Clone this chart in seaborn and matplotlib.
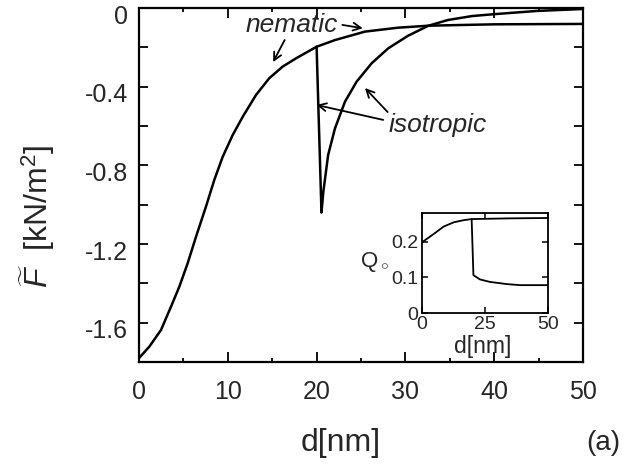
import numpy as np
import pandas as pd
import matplotlib
matplotlib.use("Agg")
import matplotlib.pyplot as plt
import seaborn as sns
from matplotlib.ticker import MultipleLocator, FixedLocator
from matplotlib.transforms import ScaledTranslation

# ---- data ----
nematic_d = [0, 1.16, 2.48, 3.60, 4.54, 5.48, 6.42, 7.54, 8.48, 9.43, 10.55, 11.68,
             13.18, 14.67, 16.18, 17.68, 20.0, 22.07, 25.45, 29.2, 32.6, 36.7,
             40.1, 45.0, 50.0]
nematic_F = [-1.78, -1.722, -1.637, -1.519, -1.417, -1.298, -1.163, -1.010, -0.874,
             -0.756, -0.646, -0.553, -0.442, -0.357, -0.298, -0.256, -0.197, -0.163,
             -0.120, -0.100, -0.090, -0.086, -0.083, -0.082, -0.081]

isotropic_d = [20.0, 20.55, 20.76, 21.3, 22.07, 23.2, 24.5, 26.2, 28.07, 30.3, 32.6,
               34.8, 37.5, 40.1, 44.8, 50.0]
isotropic_F = [-0.197, -1.04, -0.934, -0.747, -0.612, -0.476, -0.375, -0.281, -0.205,
               -0.141, -0.090, -0.061, -0.041, -0.031, -0.015, -0.005]

q_nematic_d = [0, 4.6, 8.6, 12.6, 16.6, 19.7, 35.0, 50.0]
q_nematic_Q = [0.198, 0.221, 0.242, 0.254, 0.260, 0.263, 0.265, 0.266]
q_isotropic_d = [19.7, 20.4, 23.0, 27.0, 33.6, 38.9, 50.0]
q_isotropic_Q = [0.263, 0.106, 0.094, 0.087, 0.081, 0.078, 0.078]

main_xticks = [0, 10, 20, 30, 40, 50]
main_yticks = [0, -0.4, -0.8, -1.2, -1.6]
main_ytick_labels = ["0", "-0.4", "-0.8", "-1.2", "-1.6"]
inset_xticks = [0, 25, 50]
inset_yticks = [0, 0.1, 0.2]
inset_ytick_labels = ["0", "0.1", "0.2"]

# ---- style ----
sns.set_theme(style="ticks")
plt.rcParams['font.family'] = ['Liberation Sans', 'DejaVu Sans']
plt.rcParams['mathtext.fontset'] = 'custom'
plt.rcParams['mathtext.rm'] = 'Liberation Sans'
plt.rcParams['mathtext.it'] = 'Liberation Sans:italic'
plt.rcParams['mathtext.bf'] = 'Liberation Sans:bold'
plt.rcParams['axes.unicode_minus'] = False

W, H = 628, 475
fig = plt.figure(figsize=(W / 100, H / 100), dpi=100)
fig.patch.set_facecolor('white')

# main axes (pixel box: x 139..583, y 8..362)
ax = fig.add_axes([139 / W, 1 - 362 / H, 444 / W, 354 / H])
ax.set_facecolor('white')

df_n = pd.DataFrame({"d": nematic_d, "F": nematic_F})
df_i = pd.DataFrame({"d": isotropic_d, "F": isotropic_F})
line_kw = dict(color='black', sort=False, estimator=None,
               solid_joinstyle='round', solid_capstyle='round')
sns.lineplot(data=df_n, x="d", y="F", ax=ax, lw=1.8, **line_kw)
sns.lineplot(data=df_i, x="d", y="F", ax=ax, lw=1.8, **line_kw)

ax.set_xlim(0, 50)
ax.set_ylim(-1.8, 0)
ax.xaxis.set_major_locator(FixedLocator(main_xticks))
ax.xaxis.set_minor_locator(MultipleLocator(5))
ax.set_yticks(main_yticks)
ax.set_yticklabels(main_ytick_labels)
ax.yaxis.set_minor_locator(MultipleLocator(0.2))
ax.tick_params(axis='both', which='both', direction='in', top=True, right=True,
               color='black', width=1.3)
ax.tick_params(axis='x', which='major', length=7, labelsize=18, pad=13)
ax.tick_params(axis='x', which='minor', length=3)
ax.tick_params(axis='y', which='major', length=6.5, labelsize=18, pad=8)
ax.tick_params(axis='y', which='minor', length=6.5)
for sp in ax.spines.values():
    sp.set_linewidth(1.6)
    sp.set_color('black')
# y tick labels sit slightly below their ticks in the reference
for lab in ax.get_yticklabels():
    lab.set_transform(lab.get_transform() + ScaledTranslation(0, -0.06, fig.dpi_scale_trans))

ax.set_xlabel("d[nm]", fontsize=23)
ax.xaxis.set_label_coords((341 - 139) / 444, (362 - 443) / 354)
ax.xaxis.label.set_va('center')
ax.set_ylabel(r"$\widetilde{F}$  [kN/m$^2$]", fontsize=23)
ax.yaxis.set_label_coords((37 - 139) / 444, (362 - 216) / 354)
ax.yaxis.label.set_va('center')
ax.yaxis.label.set_ha('center')

fig.text(603 / W, 1 - 443 / H, "(a)", fontsize=20, ha='center', va='center')

# annotations
ax.text(17.2, -0.086, "nematic", fontsize=19, style='italic', ha='center', va='center')
ax.text(33.6, -0.595, "isotropic", fontsize=19, style='italic', ha='center', va='center')
arrow_kw = dict(arrowstyle='->', lw=1.3, color='black', shrinkA=0, shrinkB=0,
                mutation_scale=14)
ax.annotate("", xy=(25.2, -0.103), xytext=(22.9, -0.086), arrowprops=arrow_kw)
ax.annotate("", xy=(15.1, -0.275), xytext=(16.4, -0.163), arrowprops=arrow_kw)
ax.annotate("", xy=(20.0, -0.493), xytext=(27.5, -0.569), arrowprops=arrow_kw)
ax.annotate("", xy=(25.45, -0.407), xytext=(28.0, -0.529), arrowprops=arrow_kw)

# inset axes (pixel box: x 422..548, y 213..313)
axi = fig.add_axes([422 / W, 1 - 313 / H, 126 / W, 100 / H])
axi.set_facecolor('white')
df_qn = pd.DataFrame({"d": q_nematic_d, "Q": q_nematic_Q})
df_qi = pd.DataFrame({"d": q_isotropic_d, "Q": q_isotropic_Q})
sns.lineplot(data=df_qn, x="d", y="Q", ax=axi, lw=1.3, **line_kw)
sns.lineplot(data=df_qi, x="d", y="Q", ax=axi, lw=1.3, **line_kw)
axi.set_xlim(0, 50)
axi.set_ylim(0, 0.28)
axi.set_xticks(inset_xticks)
axi.set_yticks(inset_yticks)
axi.set_yticklabels(inset_ytick_labels)
axi.tick_params(axis='both', which='major', direction='in', top=True, right=True,
                length=4, width=1.1, color='black', labelsize=14, pad=2.5)
for sp in axi.spines.values():
    sp.set_linewidth(1.3)
    sp.set_color('black')
axi.set_xlabel("d[nm]", fontsize=16.5)
axi.xaxis.set_label_coords((483 - 422) / 126, (313 - 347) / 100)
axi.xaxis.label.set_va('center')
axi.set_ylabel(r"Q$_\circ$", fontsize=16, rotation=0)
axi.yaxis.set_label_coords((374 - 422) / 126, (313 - 262) / 100)
axi.yaxis.label.set_va('center')
axi.yaxis.label.set_ha('center')

fig.savefig("out.png", dpi=100, facecolor='white')
